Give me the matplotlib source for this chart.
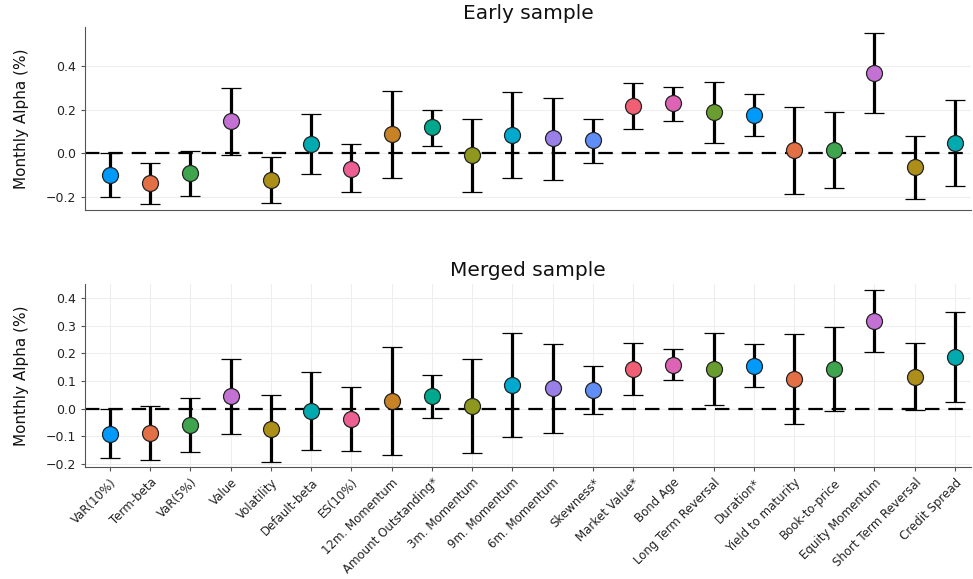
import matplotlib
matplotlib.use("Agg")
import matplotlib.pyplot as plt
import numpy as np

categories = ["VaR(10%)", "Term-beta", "VaR(5%)", "Value", "Volatility", "Default-beta",
              "ES(10%)", "12m. Momentum", "Amount Outstanding*", "3m. Momentum",
              "9m. Momentum", "6m. Momentum", "Skewness*", "Market Value*", "Bond Age",
              "Long Term Reversal", "Duration*", "Yield to maturity", "Book-to-price",
              "Equity Momentum", "Short Term Reversal", "Credit Spread"]

early_alpha = [-0.100, -0.138, -0.090, 0.148, -0.124, 0.043, -0.070, 0.088, 0.119, -0.009,
               0.084, 0.069, 0.061, 0.217, 0.229, 0.188, 0.177, 0.015, 0.015, 0.371, -0.063, 0.049]
early_hi = [0.000, -0.043, 0.012, 0.302, -0.018, 0.179, 0.041, 0.287, 0.200, 0.158,
            0.282, 0.255, 0.160, 0.325, 0.307, 0.327, 0.272, 0.215, 0.188, 0.554, 0.078, 0.246]
early_lo = [-0.200, -0.234, -0.194, -0.008, -0.226, -0.095, -0.179, -0.112, 0.032, -0.176,
            -0.115, -0.120, -0.043, 0.110, 0.148, 0.049, 0.081, -0.186, -0.157, 0.186, -0.208, -0.148]

merged_alpha = [-0.091, -0.089, -0.060, 0.045, -0.073, -0.009, -0.038, 0.029, 0.044, 0.010,
                0.086, 0.073, 0.068, 0.145, 0.160, 0.143, 0.156, 0.108, 0.144, 0.319, 0.115, 0.187]
merged_hi = [-0.003, 0.010, 0.037, 0.180, 0.050, 0.132, 0.079, 0.225, 0.121, 0.180,
             0.274, 0.236, 0.154, 0.239, 0.217, 0.273, 0.233, 0.270, 0.297, 0.431, 0.237, 0.349]
merged_lo = [-0.180, -0.186, -0.158, -0.092, -0.194, -0.150, -0.155, -0.170, -0.035, -0.161,
             -0.102, -0.090, -0.020, 0.051, 0.104, 0.012, 0.080, -0.055, -0.007, 0.207, -0.006, 0.024]

palette = ["#009AFA", "#E36F47", "#3EA44E", "#C371D2", "#AC8E18", "#00AAAE", "#ED5E93",
           "#C68225", "#00A98D", "#8E971E", "#00A9CD", "#9B7FE9", "#618DF6", "#F05F73",
           "#DD64B5", "#6A9D2F"]

fig = plt.figure(figsize=(9.73, 5.79), dpi=100)
ax1 = fig.add_axes([0.0874, 0.6373, 0.9106, 0.316])
ax2 = fig.add_axes([0.0874, 0.1934, 0.9106, 0.316])

x = np.arange(len(categories))


def draw(ax, alpha, hi, lo, title, ylim, yticks, vgrid):
    ax.axhline(0, color="black", lw=1.6, ls=(0, (6.5, 4)), zorder=1)
    for i in range(len(categories)):
        a = alpha[i]
        ax.errorbar(x[i], a, yerr=[[a - lo[i]], [hi[i] - a]], fmt="o",
                    color="black", ecolor="black", elinewidth=2.3, capsize=7.5,
                    capthick=2.3, markersize=11.5, markerfacecolor=palette[i % len(palette)],
                    markeredgecolor="#222222", markeredgewidth=0.9, zorder=3)
    ax.set_xlim(-0.62, len(categories) - 1 + 0.4)
    ax.set_ylim(*ylim)
    ax.set_yticks(yticks)
    ax.set_yticklabels([f"{t:.1f}".replace("-", "\u2212") for t in yticks])
    ax.set_title(title, fontsize=14.5, pad=6, color="#111111")
    ax.set_ylabel("Monthly Alpha (%)", fontsize=11, labelpad=12, color="#111111")
    for s in ["top", "right"]:
        ax.spines[s].set_visible(False)
    for s in ["left", "bottom"]:
        ax.spines[s].set_color("#555555")
    ax.grid(axis="y", color="#eeeeee", lw=0.8)
    if vgrid:
        ax.grid(axis="x", color="#eeeeee", lw=0.8)
    ax.set_axisbelow(True)
    ax.tick_params(axis="y", labelsize=9, length=3, color="#555555", labelcolor="#222222")


draw(ax1, early_alpha, early_hi, early_lo, "Early sample", (-0.26, 0.58),
     [-0.2, 0.0, 0.2, 0.4], False)
ax1.set_xticks(x)
ax1.tick_params(axis="x", length=0, labelbottom=False)

draw(ax2, merged_alpha, merged_hi, merged_lo, "Merged sample", (-0.212, 0.452),
     [-0.2, -0.1, 0.0, 0.1, 0.2, 0.3, 0.4], True)
ax2.set_xticks(x)
ax2.set_xticklabels(categories, rotation=45, ha="right", rotation_mode="anchor", fontsize=8.5,
                    color="#222222")
ax2.tick_params(axis="x", length=3, color="#555555")

fig.savefig("out.png", dpi=100)
